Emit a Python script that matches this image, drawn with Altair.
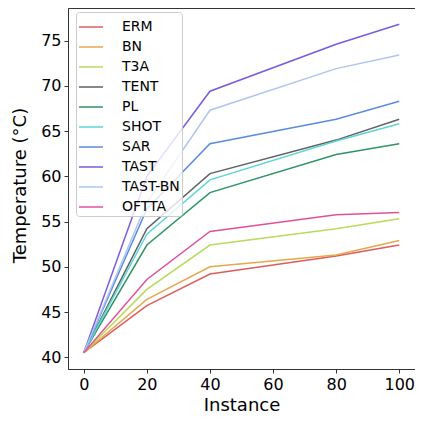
import altair as alt
import pandas as pd

instances = [0, 20, 40, 80, 100]
methods = ["ERM", "BN", "T3A", "TENT", "PL", "SHOT", "SAR", "TAST", "TAST-BN", "OFTTA"]
colors = ["#e05c5c", "#e6a84c", "#b9da5c", "#616161", "#2e9466", "#5cd6d6", "#5b8be0", "#7a5ae0", "#aec6ee", "#e0519a"]

erm = [40.5, 45.7, 49.2, 51.2, 52.4]
bn = [40.5, 46.4, 50.0, 51.3, 52.9]
t3a = [40.5, 47.5, 52.4, 54.2, 55.3]
tent = [40.5, 54.2, 60.3, 64.0, 66.3]
pl = [40.5, 52.4, 58.2, 62.4, 63.6]
shot = [40.5, 53.6, 59.6, 63.9, 65.8]
sar = [40.5, 56.4, 63.6, 66.3, 68.3]
tast = [40.5, 60.0, 69.4, 74.6, 76.8]
tast_bn = [40.5, 57.1, 67.3, 71.9, 73.4]
oftta = [40.5, 48.6, 53.9, 55.75, 56.0]

series = [erm, bn, t3a, tent, pl, shot, sar, tast, tast_bn, oftta]
rows = []
for m, vals in zip(methods, series):
    for x, v in zip(instances, vals):
        rows.append({"Instance": x, "Temperature": v, "Method": m})
df = pd.DataFrame(rows)

font = "DejaVu Sans"

chart = alt.Chart(df).mark_line(strokeWidth=1.5).encode(
    x=alt.X("Instance:Q",
            scale=alt.Scale(domain=[-5, 105], nice=False, zero=False),
            axis=alt.Axis(values=[0, 20, 40, 60, 80, 100], title="Instance",
                          grid=False, tickSize=4, labelFontSize=16, titleFontSize=18,
                          labelFont=font, titleFont=font, labelColor="black", titleColor="black",
                          titleFontWeight="normal", domainColor="#333", tickColor="#333",
                          labelPadding=3, titlePadding=4, labelFlush=False)),
    y=alt.Y("Temperature:Q",
            scale=alt.Scale(domain=[38.7, 78.6], nice=False, zero=False),
            axis=alt.Axis(values=[40, 45, 50, 55, 60, 65, 70, 75], title="Temperature (°C)",
                          grid=False, tickSize=4, labelFontSize=16, titleFontSize=18,
                          labelFont=font, titleFont=font, labelColor="black", titleColor="black",
                          titleFontWeight="normal", domainColor="#333", tickColor="#333",
                          labelPadding=3, titlePadding=11, titleY=177, labelFlush=False)),
    color=alt.Color("Method:N", sort=methods,
                    scale=alt.Scale(domain=methods, range=colors),
                    legend=alt.Legend(title=None, orient="none", legendX=8, legendY=4,
                                      symbolType="stroke", symbolSize=576, symbolStrokeWidth=1.5,
                                      labelFontSize=14, labelFont=font, labelColor="black",
                                      rowPadding=0, padding=2, labelOffset=18,
                                      strokeColor="#cccccc", fillColor="rgba(255,255,255,0.8)",
                                      cornerRadius=3)),
).properties(
    width=347, height=361,
    autosize=alt.AutoSizeParams(type="none"),
    padding={"left": 60, "top": 0, "right": 0, "bottom": 45},
).configure_view(stroke="#333", strokeWidth=1)

chart.save("out.html", embed_options={"renderer": "svg", "actions": False})
